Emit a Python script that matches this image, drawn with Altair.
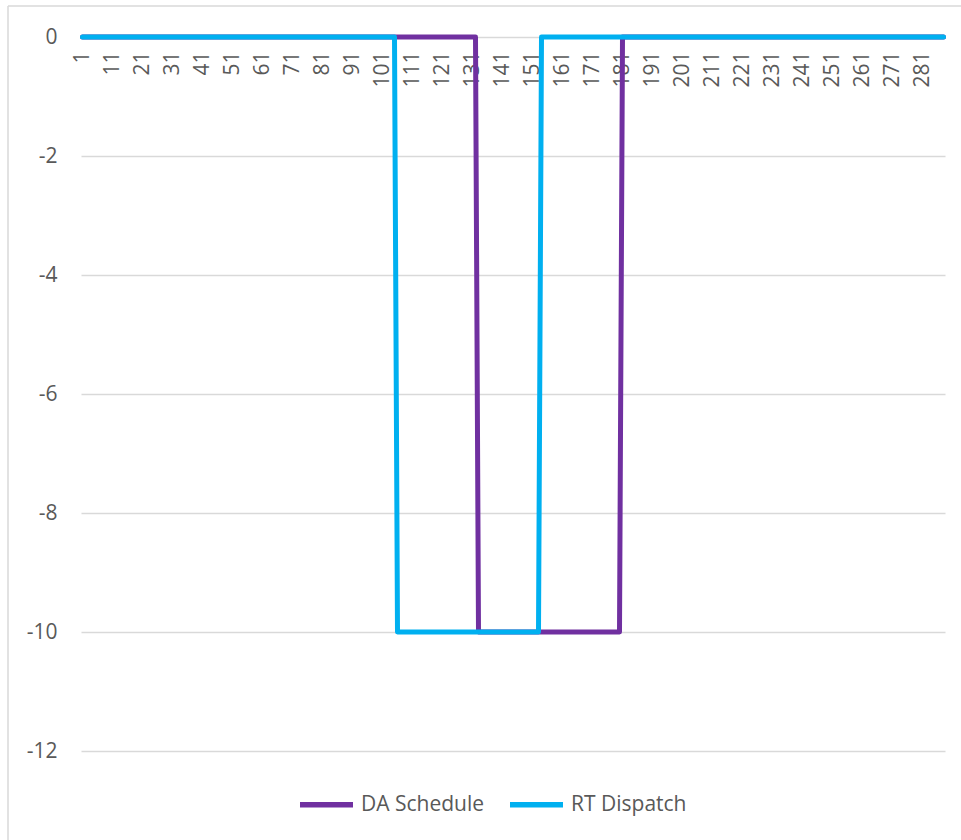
import altair as alt
import pandas as pd

# Step-change points (5-minute intervals, MW)
da_interval = [1, 132, 133, 180, 181, 288]
da_value = [0, 0, -10, -10, 0, 0]
rt_interval = [1, 105, 106, 153, 154, 288]
rt_value = [0, 0, -10, -10, 0, 0]

series_names = ["DA Schedule", "RT Dispatch"]
series_colors = ["#7030A0", "#00B0F0"]
x_tick_labels = list(range(1, 289, 10))
y_tick_labels = [0, -2, -4, -6, -8, -10, -12]

df = pd.concat([
    pd.DataFrame({"interval": da_interval, "value": da_value, "series": series_names[0]}),
    pd.DataFrame({"interval": rt_interval, "value": rt_value, "series": series_names[1]}),
], ignore_index=True)

FONT = "Open Sans"
TXT = "#595959"
FS = 21
W, H = 864, 714

lines = alt.Chart(df).mark_line(strokeWidth=5, strokeCap="round", strokeJoin="round").encode(
    x=alt.X("interval:Q",
            scale=alt.Scale(domain=[0.5, 288.5], nice=False, zero=False),
            axis=alt.Axis(values=x_tick_labels, orient="bottom", offset=-H, labelAngle=270,
                          domain=False, ticks=False, grid=False, labelPadding=14, title=None,
                          labelFontSize=FS, labelColor=TXT, labelFont=FONT,
                          labelOverlap=False, labelFlush=False)),
    y=alt.Y("value:Q",
            scale=alt.Scale(domain=[-12, 0], nice=False, zero=False),
            axis=alt.Axis(values=y_tick_labels, grid=True, gridColor="#D9D9D9", gridWidth=1.5,
                          domain=False, ticks=False, tickSize=0, labelPadding=24, title=None,
                          labelExpr="datum.value + ''",
                          labelFontSize=FS, labelColor=TXT, labelFont=FONT)),
    color=alt.Color("series:N",
                    scale=alt.Scale(domain=series_names, range=series_colors),
                    legend=alt.Legend(orient="none", legendX=216, legendY=738, direction="horizontal",
                                      symbolType="stroke", symbolSize=2809, symbolStrokeWidth=5.5,
                                      labelFontSize=FS, labelColor=TXT, labelFont=FONT,
                                      columnPadding=14, labelOffset=5, padding=0, title=None)),
)

border_top = alt.Chart(alt.Data(values=[{}])).mark_rule(color="#D9D9D9", strokeWidth=1.5).encode(
    x=alt.value(-73), x2=alt.value(W + 20), y=alt.value(-31))
border_left = alt.Chart(alt.Data(values=[{}])).mark_rule(color="#D9D9D9", strokeWidth=1.5).encode(
    x=alt.value(-73), y=alt.value(-31), y2=alt.value(H + 100))

chart = alt.layer(border_top, border_left, lines).properties(
    width=W, height=H,
    autosize=alt.AutoSizeParams(type="none"),
    padding={"left": 81, "top": 37, "right": 16, "bottom": 89},
    background="white",
).configure_view(stroke=None)

chart.save("out.html", embed_options={"renderer": "svg", "actions": False})
